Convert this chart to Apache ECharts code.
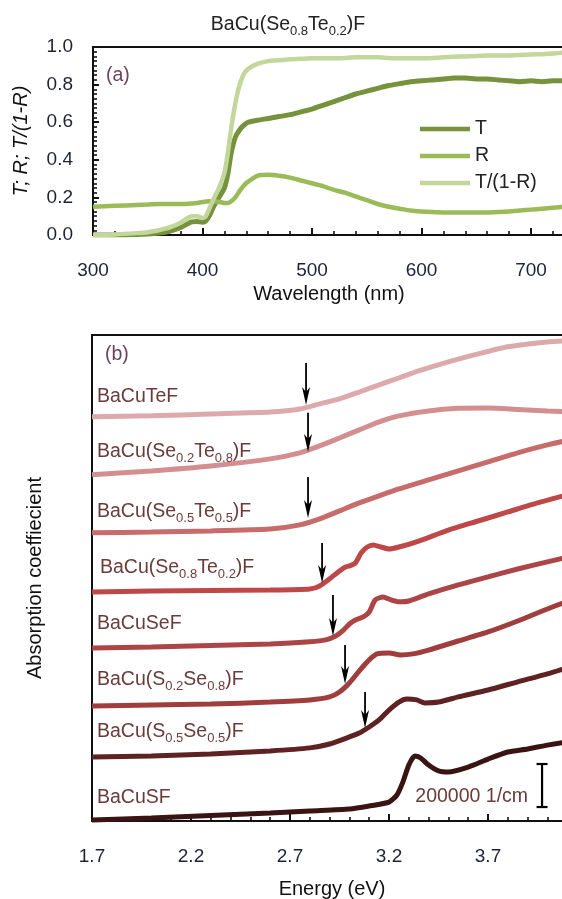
<!DOCTYPE html>
<html>
<head>
<meta charset="utf-8">
<script src="https://cdn.jsdelivr.net/npm/echarts@6/dist/echarts.min.js"></script>
<style>
  html, body { margin: 0; padding: 0; background: #fff; }
  #chart { width: 562px; height: 899px; }
</style>
</head>
<body>
<div id="chart"></div>
<script>
const FONT = '"Liberation Sans", Arial, sans-serif';

// ---------- panel (a): transmittance / reflectance of BaCu(Se0.8Te0.2)F ----------
const wavelength = [300,320,340,350,360,370,380,385,390,395,400,403,407,410,415,420,423,426,430,434,438,442,450,460,470,480,490,500,510,520,530,540,550,560,570,580,590,600,610,620,630,640,650,660,670,680,690,700,710,720,730,740];
const transT = [0,0,0.002,0.005,0.01,0.02,0.04,0.055,0.07,0.072,0.068,0.075,0.11,0.15,0.2,0.25,0.32,0.43,0.52,0.56,0.585,0.6,0.61,0.62,0.63,0.64,0.655,0.67,0.69,0.71,0.73,0.75,0.765,0.78,0.795,0.805,0.815,0.82,0.825,0.83,0.835,0.835,0.83,0.83,0.825,0.82,0.815,0.82,0.815,0.82,0.82,0.82];
const reflR = [0.15,0.155,0.16,0.162,0.165,0.165,0.165,0.165,0.167,0.17,0.175,0.178,0.18,0.18,0.177,0.17,0.17,0.178,0.2,0.235,0.265,0.285,0.315,0.32,0.315,0.305,0.29,0.275,0.26,0.24,0.225,0.205,0.185,0.165,0.15,0.14,0.13,0.125,0.122,0.12,0.12,0.12,0.12,0.12,0.122,0.125,0.13,0.135,0.14,0.145,0.15,0.155];
const corrT = [0,0.003,0.01,0.015,0.025,0.04,0.065,0.085,0.1,0.1,0.09,0.1,0.15,0.19,0.25,0.33,0.43,0.56,0.7,0.8,0.86,0.885,0.91,0.925,0.93,0.935,0.937,0.94,0.94,0.94,0.942,0.945,0.945,0.945,0.942,0.94,0.94,0.94,0.942,0.945,0.948,0.95,0.952,0.955,0.955,0.955,0.958,0.96,0.962,0.965,0.97,0.975];
const seriesA = ['T', 'R', 'T/(1-R)'];
const colorsA = ['#76923c', '#9bbb59', '#c3d69b'];

// ---------- panel (b): absorption spectra, offset for clarity ----------
// energy in eV, absorption in units of 1e5 1/cm (above each curve's own baseline)
const E0 = 1.7; // the energy axis runs in (E - E0) so that ticks fall on 1.7, 2.2, 2.7 ...
const eTeF = [1.7,2.0,2.3,2.6,2.75,2.85,2.95,3.05,3.15,3.25,3.35,3.5,3.65,3.8,3.95,4.1,4.3];
const aTeF = [0,0.04,0.13,0.22,0.36,0.6,0.83,1.15,1.48,1.8,2.13,2.55,2.92,3.25,3.43,3.53,3.57];
const eSe2Te8 = [1.7,2.0,2.3,2.6,2.75,2.85,2.95,3.05,3.15,3.25,3.4,3.55,3.7,3.85,4.0,4.15,4.3];
const aSe2Te8 = [0,0.18,0.41,0.74,1.02,1.34,1.71,2.09,2.46,2.74,2.97,3.09,3.11,3.04,2.97,2.92,2.88];
const eSe5Te5 = [1.7,2.0,2.3,2.6,2.75,2.85,2.95,3.05,3.15,3.25,3.4,3.55,3.7,3.85,4.0,4.15,4.3];
const aSe5Te5 = [0,0.04,0.09,0.18,0.37,0.65,1.02,1.39,1.72,2.04,2.46,2.88,3.3,3.72,4.09,4.37,4.55];
const eSe8Te2 = [1.7,2.0,2.3,2.6,2.8,2.85,2.9,2.95,2.98,3.0,3.03,3.06,3.09,3.12,3.16,3.2,3.25,3.35,3.5,3.65,3.8,3.95,4.1,4.3];
const aSe8Te2 = [0,0.05,0.07,0.09,0.14,0.28,0.61,0.98,1.16,1.21,1.35,1.82,2.09,2.19,2.09,2.0,2.09,2.37,2.88,3.3,3.72,4.14,4.51,4.84];
const eSeF = [1.7,2.0,2.3,2.6,2.8,2.88,2.93,2.97,3.0,3.03,3.07,3.1,3.13,3.17,3.21,3.25,3.3,3.4,3.55,3.7,3.85,4.0,4.15,4.3];
const aSeF = [0,0.04,0.11,0.18,0.28,0.37,0.55,0.83,1.11,1.3,1.44,1.67,2.23,2.37,2.23,2.14,2.18,2.51,2.93,3.3,3.67,4.0,4.32,4.6];
const eS2Se8 = [1.7,2.0,2.3,2.6,2.8,2.9,2.95,3.0,3.05,3.1,3.14,3.2,3.26,3.32,3.4,3.55,3.7,3.85,4.0,4.15,4.3];
const aS2Se8 = [0,0.05,0.09,0.18,0.28,0.42,0.65,1.07,1.63,2.14,2.42,2.46,2.37,2.42,2.6,3.02,3.44,3.95,4.51,5.02,5.49];
const eS5Se5 = [1.7,2.0,2.3,2.6,2.8,2.9,3.0,3.05,3.1,3.15,3.2,3.25,3.29,3.34,3.38,3.45,3.55,3.7,3.85,4.0,4.15,4.3];
const aS5Se5 = [0,0.04,0.14,0.28,0.42,0.6,0.93,1.11,1.39,1.72,2.18,2.55,2.69,2.65,2.51,2.55,2.79,3.11,3.49,3.86,4.28,4.65];
const eSF = [1.7,2.0,2.3,2.6,2.8,3.0,3.1,3.2,3.24,3.27,3.3,3.33,3.36,3.4,3.45,3.5,3.6,3.7,3.8,3.9,4.0,4.1,4.3];
const aSF = [0,0.09,0.21,0.32,0.42,0.51,0.65,0.83,1.16,1.76,2.55,2.97,2.88,2.55,2.28,2.23,2.46,2.83,3.16,3.3,3.48,3.62,3.86];

const offsetsB = [18.8, 16.1, 13.4, 10.65, 8.05, 5.35, 2.98, 0.05];
const namesB = ['BaCuTeF', 'BaCu(Se{s|0.2}Te{s|0.8})F', 'BaCu(Se{s|0.5}Te{s|0.5})F', 'BaCu(Se{s|0.8}Te{s|0.2})F',
                'BaCuSeF', 'BaCu(S{s|0.2}Se{s|0.8})F', 'BaCu(S{s|0.5}Se{s|0.5})F', 'BaCuSF'];
const colorsB = ['#dcaaaa', '#d38f8f', '#c86b6b', '#be4848', '#ac4545', '#a03d3d', '#5e2222', '#3a1313'];
// band-gap arrows: [energy, tail, head] in the same units as the curves
const gapArrows = [[2.781,21.3,19.35],[2.791,18.98,17.16],[2.791,16.0,14.09],[2.862,12.93,11.07],[2.917,10.51,8.6],[2.978,8.19,6.37],[3.079,6.0,4.33]];
// scale bar: 200000 1/cm = 2 units
const scaleBar = [3.973, 0.65, 2.65];

const curvesB = [[eTeF,aTeF],[eSe2Te8,aSe2Te8],[eSe5Te5,aSe5Te5],[eSe8Te2,aSe8Te2],[eSeF,aSeF],[eS2Se8,aS2Se8],[eS5Se5,aS5Se5],[eSF,aSF]];

// label placement for panel (b) (left edge x, centre y)
const labelPosB = [[97,397],[97,452],[97,512],[100,568],[97,624],[97,680],[97,732],[97,798]];

const LABEL_BROWN = '#6b3a3a';
const TICK_COLOR = '#1d2236';
const AXIS_COLOR = '#111';

const chart = echarts.init(document.getElementById('chart'), null, { renderer: 'canvas' });

const series = [];
[transT, reflR, corrT].forEach((vals, i) => {
  series.push({
    name: seriesA[i], type: 'line', xAxisIndex: 0, yAxisIndex: 0,
    data: wavelength.map((w, k) => [w, vals[k]]),
    symbol: 'none', smooth: 0.2,
    lineStyle: { color: colorsA[i], width: i === 0 ? 5 : 4.5 },
    itemStyle: { color: colorsA[i] },
    z: 2 + i
  });
});
curvesB.forEach(([e, a], i) => {
  series.push({
    type: 'line', xAxisIndex: 1, yAxisIndex: 1,
    data: e.map((x, k) => [x - E0, a[k] + offsetsB[i]]),
    symbol: 'none', smooth: 0.2,
    lineStyle: { color: colorsB[i], width: 5 },
    z: 2
  });
});
series.push({
  type: 'custom', xAxisIndex: 1, yAxisIndex: 1, z: 5,
  data: gapArrows.map(d => [d[0] - E0, d[1], d[2]]),
  renderItem: (params, api) => {
    const t = api.coord([api.value(0), api.value(1)]);
    const h = api.coord([api.value(0), api.value(2)]);
    return { type: 'group', children: [
      { type: 'line', shape: { x1: t[0], y1: t[1], x2: h[0], y2: h[1] - 8 }, style: { stroke: '#000', lineWidth: 1.8 } },
      { type: 'polygon', shape: { points: [[h[0], h[1]], [h[0] - 4, h[1] - 18], [h[0], h[1] - 13], [h[0] + 4, h[1] - 18]] }, style: { fill: '#000' } }
    ]};
  }
});
series.push({
  type: 'custom', xAxisIndex: 1, yAxisIndex: 1, z: 5,
  data: [[scaleBar[0] - E0, scaleBar[1], scaleBar[2]]],
  renderItem: (params, api) => {
    const b = api.coord([api.value(0), api.value(1)]);
    const t = api.coord([api.value(0), api.value(2)]);
    const st = { stroke: '#000', lineWidth: 2.2 };
    return { type: 'group', children: [
      { type: 'line', shape: { x1: b[0], y1: b[1], x2: t[0], y2: t[1] }, style: st },
      { type: 'line', shape: { x1: b[0] - 5.5, y1: b[1], x2: b[0] + 5.5, y2: b[1] }, style: st },
      { type: 'line', shape: { x1: t[0] - 5.5, y1: t[1], x2: t[0] + 5.5, y2: t[1] }, style: st },
      { type: 'text', style: { text: '200000 1/cm', x: b[0] - 14, y: b[1] - 10, align: 'right', verticalAlign: 'middle',
        fontSize: 19.5, fontFamily: FONT, fill: LABEL_BROWN } }
    ]};
  }
});

const richSub = (color) => ({ s: { fontSize: 13, fontFamily: FONT, fill: color, verticalAlign: 'bottom', lineHeight: 13 } });

const graphics = [
  { type: 'text', style: { text: 'BaCu(Se{s|0.8}Te{s|0.2})F', x: 288, y: 25, align: 'center', verticalAlign: 'middle',
      fontSize: 19.5, fontFamily: FONT, fill: '#222', lineHeight: 26, rich: richSub('#222') } },
  { type: 'text', style: { text: '(a)', x: 106, y: 76, verticalAlign: 'middle', fontSize: 19.5, fontFamily: FONT, fill: '#6b4458' } },
  { type: 'text', style: { text: '(b)', x: 105, y: 355, verticalAlign: 'middle', fontSize: 19.5, fontFamily: FONT, fill: '#6b4458' } },
  { type: 'text', style: { text: 'Wavelength (nm)', x: 329, y: 294, align: 'center', verticalAlign: 'middle', fontSize: 20, fontFamily: FONT, fill: '#111' } },
  { type: 'text', style: { text: 'Energy (eV)', x: 332, y: 889, align: 'center', verticalAlign: 'middle', fontSize: 20, fontFamily: FONT, fill: '#111' } }
];
namesB.forEach((n, i) => {
  graphics.push({ type: 'text', z: 10, style: { text: n, x: labelPosB[i][0], y: labelPosB[i][1], verticalAlign: 'middle',
    fontSize: 19.5, fontFamily: FONT, fill: LABEL_BROWN, lineHeight: 26, rich: richSub(LABEL_BROWN) } });
});

const tickLine = { color: AXIS_COLOR, width: 2 };
const option = {
  animation: false,
  backgroundColor: '#fff',
  textStyle: { fontFamily: FONT },
  grid: [
    { left: 93, top: 47, width: 547.5, height: 188, show: true, borderColor: AXIS_COLOR, borderWidth: 2, outerBoundsMode: 'none', containLabel: false },
    { left: 92, top: 335, width: 514.8, height: 486, show: true, borderColor: AXIS_COLOR, borderWidth: 2, outerBoundsMode: 'none', containLabel: false }
  ],
  xAxis: [
    { gridIndex: 0, type: 'value', min: 300, max: 800, interval: 100,
      axisLine: { lineStyle: tickLine },
      axisTick: { inside: true, length: 7, lineStyle: tickLine },
      minorTick: { show: true, splitNumber: 5, length: 4, lineStyle: { color: AXIS_COLOR, width: 1.6 } },
      splitLine: { show: false },
      axisLabel: { margin: 26, fontSize: 19, color: TICK_COLOR } },
    { gridIndex: 1, type: 'value', min: 0, max: 2.6, interval: 0.5,
      axisLine: { lineStyle: tickLine },
      axisTick: { inside: true, length: 7, lineStyle: tickLine },
      minorTick: { show: true, splitNumber: 5, length: 4, lineStyle: { color: AXIS_COLOR, width: 1.6 } },
      splitLine: { show: false },
      axisLabel: { margin: 26, fontSize: 19, color: TICK_COLOR, formatter: v => (v + E0).toFixed(1) } }
  ],
  yAxis: [
    { gridIndex: 0, type: 'value', min: 0, max: 1, interval: 0.2,
      name: 'T; R; T/(1-R)', nameLocation: 'middle', nameGap: 62,
      nameTextStyle: { fontSize: 20, fontStyle: 'italic', color: '#111', fontFamily: FONT },
      axisLine: { show: true, lineStyle: tickLine },
      axisTick: { inside: true, length: 6, lineStyle: tickLine },
      minorTick: { show: true, splitNumber: 8, length: 4, lineStyle: { color: AXIS_COLOR, width: 1.6 } },
      splitLine: { show: false },
      axisLabel: { margin: 20, fontSize: 19, color: TICK_COLOR, formatter: v => v.toFixed(1) } },
    { gridIndex: 1, type: 'value', min: 0, max: 22.6,
      name: 'Absorption coeffiecient', nameLocation: 'middle', nameGap: 47,
      nameTextStyle: { fontSize: 20, color: '#111', fontFamily: FONT },
      axisLine: { show: true, lineStyle: tickLine },
      axisTick: { show: false }, axisLabel: { show: false }, splitLine: { show: false } }
  ],
  legend: {
    show: true, orient: 'vertical', left: 415, top: 114, selectedMode: false,
    itemWidth: 50, itemHeight: 4.5, itemGap: 7, icon: 'rect',
    textStyle: { fontSize: 19.5, color: '#222', lineHeight: 20, fontFamily: FONT },
    data: seriesA
  },
  graphic: graphics,
  series: series
};
chart.setOption(option);
</script>
</body>
</html>
